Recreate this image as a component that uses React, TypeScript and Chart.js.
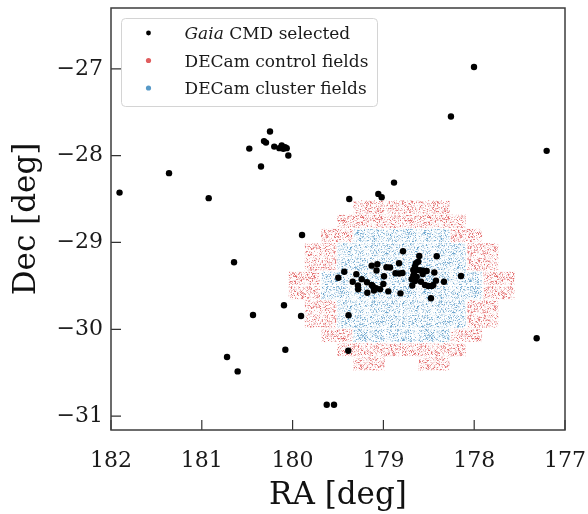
import { useEffect, useRef } from 'react';
import { Chart, registerables } from 'chart.js';

Chart.register(...registerables);

// Gaia CMD-selected stars (RA, Dec in degrees)
const gaiaRA = [
  181.906, 181.361, 180.924, 178.002, 178.256, 177.202, 179.376, 179.056, 179.019, 178.883,
  179.896, 180.645, 180.095, 180.436, 179.907, 179.384, 180.722, 180.605, 180.08, 179.387,
  179.624, 179.544, 177.312, 178.145,
  180.249, 180.293, 180.315, 180.477, 180.202, 180.146, 180.12, 180.102, 180.084, 180.065,
  180.047, 180.348,
  178.784, 178.605, 178.413, 178.828, 178.641, 178.616, 178.966, 178.927, 178.671, 178.633,
  178.597, 178.558, 178.523, 178.867, 178.825, 178.79, 178.993, 178.671, 178.633, 178.567,
  178.439, 178.688, 178.652, 178.586, 179.001, 178.542, 178.506, 178.468, 178.45, 178.421,
  178.333, 178.682, 178.946, 178.812, 178.476, 179.129, 179.067, 179.076, 179.431, 179.497,
  179.298, 179.338, 179.239, 179.181, 179.28, 179.278, 179.118, 179.081, 179.104, 179.177,
  179.129, 179.037, 178.652, 178.663,
];
const gaiaDec = [
  -28.426, -28.202, -28.49, -26.98, -27.55, -27.945, -28.499, -28.441, -28.479, -28.311,
  -28.914, -29.228, -29.724, -29.836, -29.847, -29.839, -30.32, -30.485, -30.236, -30.247,
  -30.87, -30.87, -30.104, -29.386,
  -27.723, -27.85, -27.833, -27.919, -27.896, -27.914, -27.884, -27.922, -27.903, -27.914,
  -27.999, -28.126,
  -29.101, -29.156, -29.159, -29.24, -29.24, -29.221, -29.286, -29.288, -29.317, -29.317,
  -29.32, -29.325, -29.329, -29.355, -29.357, -29.352, -29.39, -29.386, -29.398, -29.363,
  -29.346, -29.424, -29.444, -29.452, -29.478, -29.49, -29.501, -29.501, -29.49, -29.44,
  -29.452, -29.496, -29.563, -29.586, -29.643, -29.267, -29.251, -29.323, -29.337, -29.406,
  -29.365, -29.452, -29.423, -29.458, -29.496, -29.539, -29.501, -29.528, -29.553, -29.579,
  -29.49, -29.539, -29.277, -29.363,
];

// DECam pointing: CCD rows (Dec of each row centre) and chip types per row
// r = control field chip, b = cluster field chip, . = no data
const chipRowDec = [
  -28.592, -28.757, -28.92, -29.085, -29.249, -29.414,
  -29.578, -29.742, -29.906, -30.071, -30.235, -30.399,
];
const chipRowLayout = [
  'rrr', 'rrrr', 'rbbbr', 'rbbbbr', 'rbbbbr', 'rbbbbbr',
  'rbbbbbr', 'rbbbbr', 'rbbbbr', 'rbbbr', 'rrrr', 'r.r',
];
const fieldCenterRA = 178.8;
const chipPitchRA = 0.357;
const chipWidthRA = 0.345;
const chipHeightDec = 0.152;

const xTickValues = [182, 181, 180, 179, 178, 177];
const yTickValues = [-31, -30, -29, -28, -27];

const legendItems = [
  { italic: 'Gaia', rest: ' CMD selected', color: '#000000', r: 2.4 },
  { italic: '', rest: 'DECam control fields', color: 'rgba(214,39,40,0.75)', r: 2.6 },
  { italic: '', rest: 'DECam cluster fields', color: 'rgba(31,119,180,0.75)', r: 2.6 },
];

const FONT = '"DejaVu Serif", "Liberation Serif", serif';

function fmtTick(v: number | string) {
  const n = Number(v);
  return n < 0 ? '\u2212' + Math.abs(n) : String(n);
}

function makeTexture(r: number, g: number, b: number, seed: number, strength: number) {
  const w = 67;
  const h = 59;
  const c = document.createElement('canvas');
  c.width = w;
  c.height = h;
  const cx = c.getContext('2d')!;
  const img = cx.createImageData(w, h);
  for (let y = 0; y < h; y++) {
    for (let x = 0; x < w; x++) {
      const s = Math.sin(x * 12.9898 + y * 78.233 + seed * 37.719) * 43758.5453;
      const f = s - Math.floor(s);
      const a = Math.pow(f, 3.5) * strength;
      const k = (y * w + x) * 4;
      img.data[k] = r;
      img.data[k + 1] = g;
      img.data[k + 2] = b;
      img.data[k + 3] = Math.round(a * 255);
    }
  }
  cx.putImageData(img, 0, 0);
  return c;
}

const chipPlugin = {
  id: 'decamChips',
  beforeDatasetsDraw(chart: any) {
    const { ctx, chartArea, scales } = chart;
    const xs = scales.x;
    const ys = scales.y;
    const redTex = ctx.createPattern(makeTexture(214, 39, 40, 1, 0.72), 'repeat');
    const blueTex = ctx.createPattern(makeTexture(31, 119, 180, 2, 0.7), 'repeat');
    ctx.save();
    ctx.beginPath();
    ctx.rect(chartArea.left, chartArea.top, chartArea.right - chartArea.left, chartArea.bottom - chartArea.top);
    ctx.clip();
    chipRowLayout.forEach((row, i) => {
      const n = row.length;
      for (let j = 0; j < n; j++) {
        const t = row[j];
        if (t === '.') continue;
        const ra = fieldCenterRA + (j - (n - 1) / 2) * chipPitchRA;
        const dec = chipRowDec[i];
        const x1 = xs.getPixelForValue(ra - chipWidthRA / 2);
        const x2 = xs.getPixelForValue(ra + chipWidthRA / 2);
        const y1 = ys.getPixelForValue(dec + chipHeightDec / 2);
        const y2 = ys.getPixelForValue(dec - chipHeightDec / 2);
        ctx.fillStyle = t === 'r' ? redTex : blueTex;
        ctx.fillRect(Math.min(x1, x2), Math.min(y1, y2), Math.abs(x2 - x1), Math.abs(y2 - y1));
      }
    });
    ctx.restore();
  },
};

const framePlugin = {
  id: 'frameTicks',
  afterDatasetsDraw(chart: any) {
    const { ctx, chartArea, scales } = chart;
    const { left, right, top, bottom } = chartArea;
    ctx.save();
    ctx.strokeStyle = '#333333';
    ctx.lineWidth = 1.2;
    ctx.beginPath();
    scales.x.ticks.forEach((t: any) => {
      const px = scales.x.getPixelForValue(t.value);
      ctx.moveTo(px, bottom);
      ctx.lineTo(px, bottom - 10);
    });
    scales.y.ticks.forEach((t: any) => {
      const py = scales.y.getPixelForValue(t.value);
      ctx.moveTo(left, py);
      ctx.lineTo(left + 10, py);
    });
    ctx.stroke();
    ctx.strokeStyle = '#3c3c3c';
    ctx.lineWidth = 1.5;
    ctx.strokeRect(left, top, right - left, bottom - top);
    ctx.restore();
  },
};

const legendPlugin = {
  id: 'customLegend',
  afterDraw(chart: any) {
    const { ctx, chartArea } = chart;
    const bx = chartArea.left + 10.5;
    const by = chartArea.top + 10.5;
    const bw = 256;
    const bh = 88;
    ctx.save();
    ctx.beginPath();
    ctx.roundRect(bx, by, bw, bh, 4);
    ctx.fillStyle = 'rgba(255,255,255,0.85)';
    ctx.fill();
    ctx.strokeStyle = '#d4d4d4';
    ctx.lineWidth = 1;
    ctx.stroke();
    const rowY = [33, 60.5, 88];
    legendItems.forEach((it, i) => {
      const cy = chartArea.top + rowY[i] - 8;
      ctx.beginPath();
      ctx.arc(bx + 27, cy, it.r, 0, Math.PI * 2);
      ctx.fillStyle = it.color;
      ctx.fill();
      ctx.fillStyle = '#1a1a1a';
      ctx.textBaseline = 'alphabetic';
      let tx = bx + 63;
      const base = cy + 6.2;
      if (it.italic) {
        ctx.font = 'italic 17px ' + FONT;
        ctx.fillText(it.italic, tx, base);
        tx += ctx.measureText(it.italic).width;
      }
      ctx.font = '17px ' + FONT;
      ctx.fillText(it.rest, tx, base);
    });
    ctx.restore();
  },
};

export default function App() {
  const ref = useRef<HTMLCanvasElement | null>(null);
  useEffect(() => {
    if (!ref.current) return;
    const chart = new Chart(ref.current, {
      type: 'scatter',
      data: {
        datasets: [
          {
            label: 'Gaia CMD selected',
            data: gaiaRA.map((x, i) => ({ x, y: gaiaDec[i] })),
            backgroundColor: '#000000',
            borderWidth: 0,
            pointRadius: 3.2,
            pointHoverRadius: 3.2,
          },
        ],
      },
      options: {
        responsive: false,
        animation: false,
        devicePixelRatio: 1,
        events: [],
        layout: { padding: { left: 0, top: 8, right: 23, bottom: 0 } },
        plugins: { legend: { display: false }, tooltip: { enabled: false } },
        scales: {
          x: {
            type: 'linear',
            min: 177,
            max: 182,
            reverse: true,
            afterFit: (s: any) => {
              s.height = 84;
              s.paddingLeft = 0;
              s.paddingRight = 0;
            },
            afterBuildTicks: (s: any) => {
              s.ticks = xTickValues.map((v) => ({ value: v }));
            },
            grid: { display: false, drawTicks: false },
            border: { display: false },
            ticks: {
              font: { family: FONT, size: 22 },
              color: '#1a1a1a',
              padding: 18,
              maxRotation: 0,
              autoSkip: false,
              callback: fmtTick,
            },
            title: {
              display: true,
              text: 'RA [deg]',
              font: { family: FONT, size: 31, lineHeight: 1 },
              color: '#111111',
              padding: { top: 0, bottom: 3 },
            },
          },
          y: {
            type: 'linear',
            min: -31.16,
            max: -26.3,
            afterFit: (s: any) => {
              s.width = 111;
              s.paddingTop = 0;
              s.paddingBottom = 0;
            },
            afterBuildTicks: (s: any) => {
              s.ticks = yTickValues.map((v) => ({ value: v }));
            },
            grid: { display: false, drawTicks: false },
            border: { display: false },
            ticks: {
              font: { family: FONT, size: 22 },
              color: '#1a1a1a',
              padding: 8,
              autoSkip: false,
              callback: fmtTick,
            },
            title: {
              display: true,
              text: 'Dec [deg]',
              font: { family: FONT, size: 31, lineHeight: 1 },
              color: '#111111',
              padding: { top: 11, bottom: 0 },
            },
          },
        },
      },
      plugins: [chipPlugin, framePlugin, legendPlugin],
    } as any);
    return () => chart.destroy();
  }, []);
  return (
    <div style={{ position: 'fixed', left: 0, top: 0, width: 588, height: 514, background: '#fff' }}>
      <canvas ref={ref} width={588} height={514} style={{ display: 'block', width: 588, height: 514 }} />
    </div>
  );
}
